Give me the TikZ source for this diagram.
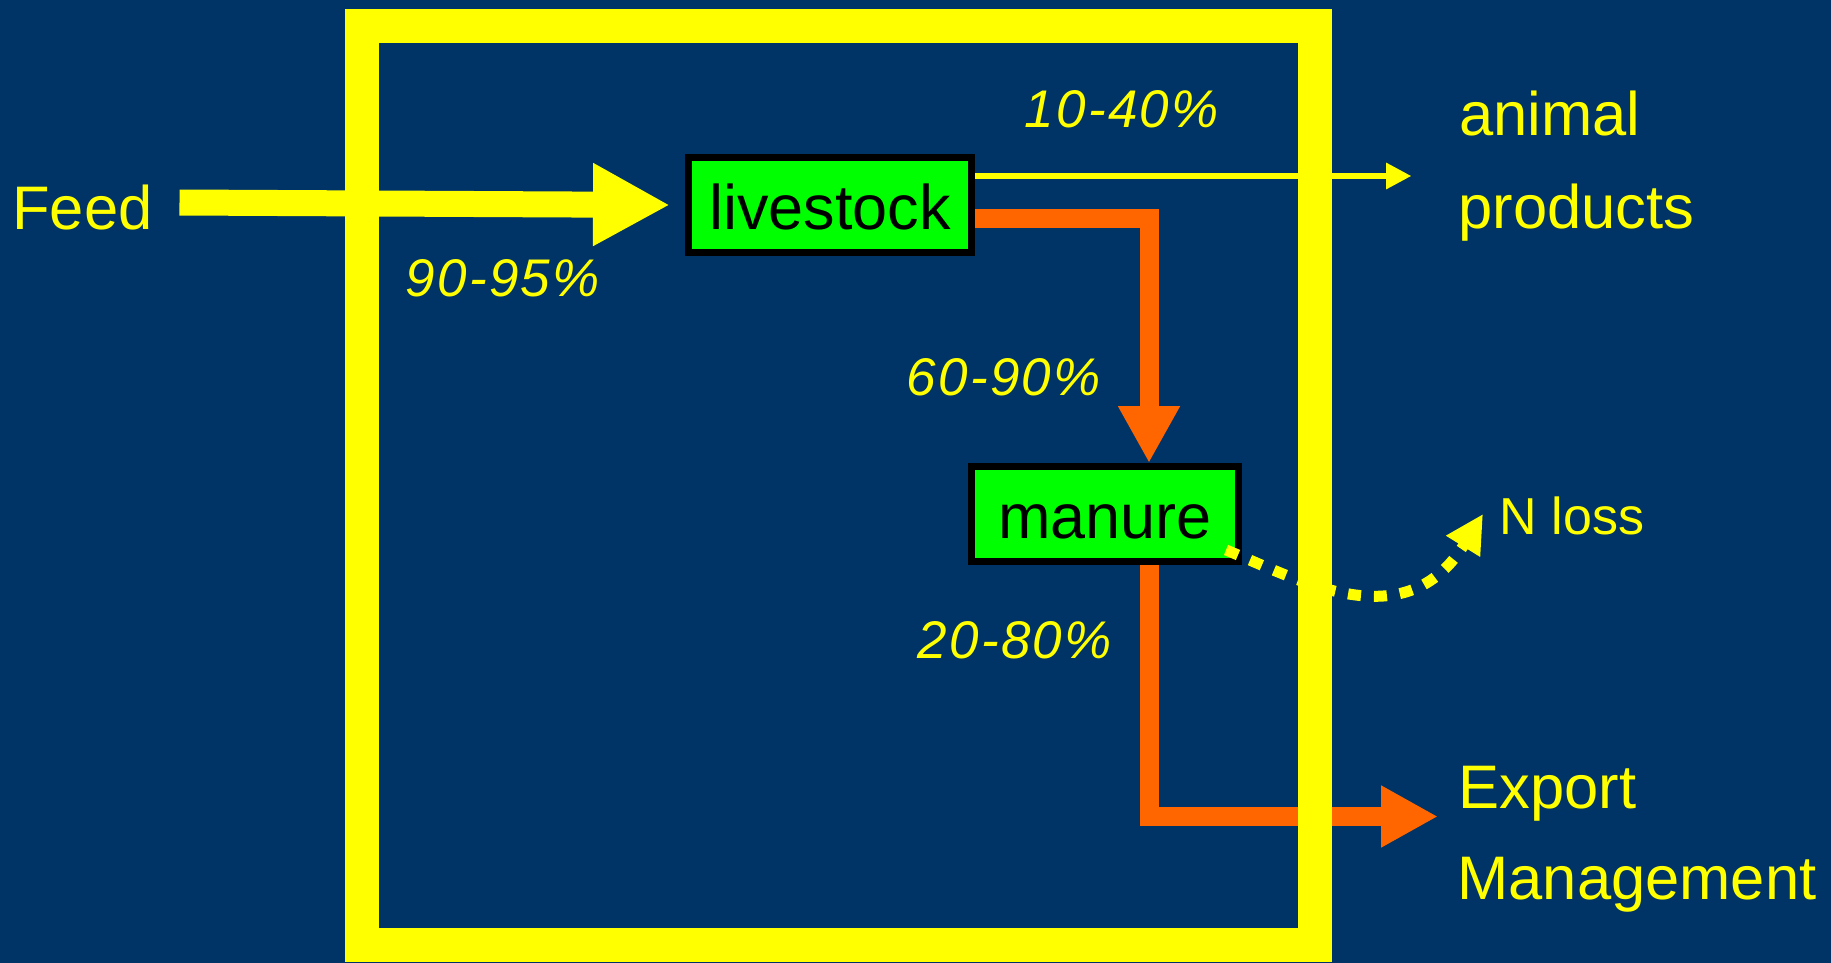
\documentclass[tikz,border=0pt]{standalone}
\usepackage{fontspec}
\setmainfont{Liberation Sans}
\usetikzlibrary{arrows.meta}
\definecolor{navy}{RGB}{0,51,102}
\definecolor{flowyellow}{RGB}{255,255,0}
\definecolor{poolgreen}{RGB}{0,255,0}
\definecolor{floworange}{RGB}{255,102,0}

\begin{document}
\begin{tikzpicture}[x=0.5pt,y=-0.5pt,
  lbl/.style={text=flowyellow, inner sep=0pt, anchor=base west,
    font=\fontsize{30.75pt}{36pt}\selectfont},
  smalllbl/.style={text=flowyellow, inner sep=0pt, anchor=base west,
    font=\fontsize{26pt}{30pt}\selectfont},
  pct/.style={text=flowyellow, inner sep=0pt, anchor=base west,
    font=\fontsize{26.5pt}{30pt}\selectfont\itshape\addfontfeatures{LetterSpace=4.5}},
  pool/.style={draw=black, line width=3.5pt, fill=poolgreen, inner sep=0pt,
    minimum height=47.5pt, text height=24.3pt, text depth=0pt,
    font=\fontsize{31.5pt}{36pt}\selectfont},
  feedflow/.style={draw=flowyellow, line width=13pt,
    -{Triangle[length=38.5pt,width=38.7pt]}},
  thinflow/.style={draw=flowyellow, line width=3.15pt,
    -{Triangle[length=12.75pt,width=12.5pt]}},
  nflow/.style={draw=floworange, line width=9.5pt, line join=miter,
    -{Triangle[length=28.5pt,width=29pt]}},
  lossflow/.style={draw=flowyellow, line width=5.5pt, dash pattern=on 6.5pt off 6.5pt,
    -{Triangle[length=19pt,width=18.7pt]}},
  farmgate/.style={draw=flowyellow, line width=17pt, line join=miter}]

% canvas
\useasboundingbox (0,0) rectangle (1831,963);
\fill[navy] (0,0) rectangle (1831,963);

% pools
\node[pool, minimum width=141.5pt] (livestock) at (830,205) {livestock};
\node[pool, minimum width=133.5pt] (manure) at (1105,514) {manure};

% labels
\node[lbl] (feed) at (12,229.3) {Feed};
\node[lbl] (animal) at (1459,135) {animal};
\node[lbl] (products) at (1458,228.3) {products};
\node[lbl] (export) at (1458,808.3) {Export};
\node[lbl] (management) at (1457,899.3) {Management};
\node[smalllbl] (nloss) at (1499.5,534) {N loss};

\node[pct] (pfeed) at (405,296.7) {90-95\%};
\node[pct] (pprod) at (1024,127.7) {10-40\%};
\node[pct] (pmanure) at (906,395) {60-90\%};
\node[pct] (pexport) at (917,658.3) {20-80\%};

% free ends of the flows
\coordinate (feedstart) at (179.5,202.5);
\coordinate (prodtip) at (1411.5,176);
\coordinate (exporttip) at (1438,816.5);
\coordinate (losstip) at (1483,514);

% flows
\draw[feedflow] (feedstart) -- ([xshift=-7.5pt]livestock.west);
\draw[thinflow] ([yshift=14.5pt]livestock.east) -- (prodtip);
\draw[nflow] ([yshift=-6.5pt]livestock.east) -| ([xshift=22pt]manure.north);
\draw[nflow] ([xshift=22pt]manure.south) |- (exporttip);
\draw[lossflow] ([xshift=-8pt,yshift=7.5pt]manure.south east)
  .. controls (1300,580) and (1405,640) .. (losstip);

% farm boundary
\draw[farmgate] (362,26) rectangle (1314.5,944.7);
\end{tikzpicture}
\end{document}
